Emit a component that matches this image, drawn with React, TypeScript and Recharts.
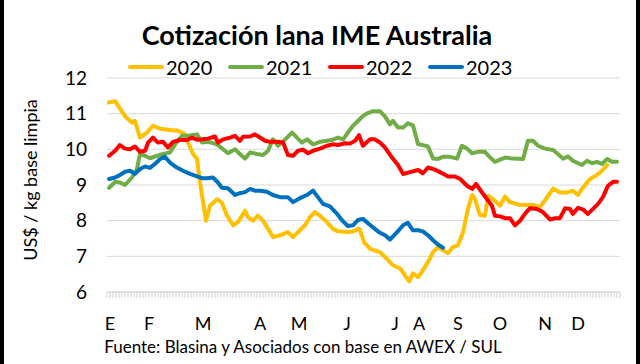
import React from 'react';
import { LineChart, Line, XAxis, YAxis, CartesianGrid } from 'recharts';

const FONT = 'Lato, "Open Sans", sans-serif';

const monthTickPos = [1, 14, 32, 51, 64, 80, 96, 104, 117, 131, 146, 157];
const monthLabels = ['E', 'F', 'M', 'A', 'M', 'J', 'J', 'A', 'S', 'O', 'N', 'D'];
const yTicks = [6, 7, 8, 9, 10, 11, 12];

const x2020 = [0.3, 2.7, 6, 8.3, 9.3, 11, 13.3, 15.3, 17.7, 21, 23.7, 26, 27, 28.7, 30, 31, 33, 34.3, 36.7, 38.3, 40, 42, 43.7, 46, 47, 48.7, 50.3, 52, 53.7, 55.3, 57.7, 60.3, 62, 64.3, 66, 67.7, 69.3, 71, 73.3, 75.3, 77, 80, 82, 83.7, 84.3, 85.7, 87.7, 91, 93.3, 95.3, 97.7, 99.3, 100.7, 102, 103.7, 105.3, 107, 108.7, 110.3, 112, 113.7, 115.3, 117, 118.7, 120.3, 121.7, 122.7, 124.3, 126, 127, 128.7, 131, 132.7, 134.3, 137.7, 142, 144.3, 146.7, 148.7, 151, 153.3, 155.3, 157, 158.7, 161, 163.3, 165, 166.7];
const v2020 = [11.31, 11.35, 10.93, 10.75, 10.8, 10.33, 10.47, 10.66, 10.58, 10.54, 10.52, 10.42, 10.19, 9.87, 9.73, 9.07, 8.0, 8.42, 8.6, 8.5, 8.14, 7.87, 7.96, 8.28, 8.1, 8.0, 8.14, 8.0, 7.77, 7.54, 7.59, 7.68, 7.54, 7.73, 7.87, 8.1, 8.24, 8.14, 7.96, 7.77, 7.7, 7.68, 7.7, 7.77, 7.75, 7.4, 7.21, 7.12, 6.93, 6.75, 6.66, 6.47, 6.3, 6.52, 6.42, 6.61, 6.84, 7.12, 7.26, 7.17, 7.09, 7.26, 7.31, 7.68, 8.33, 8.72, 8.6, 8.16, 8.14, 8.7, 8.6, 8.42, 8.68, 8.52, 8.44, 8.44, 8.38, 8.65, 8.9, 8.79, 8.79, 8.84, 8.72, 8.93, 9.17, 9.28, 9.4, 9.56];

const x2021 = [0.7, 2.7, 4.3, 6, 8.3, 10, 11, 12.7, 14.3, 16.7, 18.7, 21, 22.7, 25, 27, 30, 31.7, 33.7, 36.7, 38.7, 40.3, 42.7, 44.3, 46, 47.7, 50, 52, 53.7, 55.3, 57, 58.3, 60, 61.7, 63.3, 65, 66.7, 68.7, 71, 73.3, 75.3, 77, 78.7, 80.3, 82, 83.7, 85.3, 86.7, 88.7, 91, 92.7, 94.3, 95.3, 97, 98.7, 100.3, 102, 103.7, 105.3, 107, 108.7, 110.3, 112, 114.3, 116.7, 118.3, 120, 121.7, 123.7, 126, 127.7, 129.3, 131, 132.7, 135.3, 138.7, 140.3, 142, 143.7, 146, 148.7, 150.3, 152, 153.7, 155.3, 158.3, 160, 161.7, 163.3, 165, 166.7, 168.3, 170];
const v2021 = [8.92, 9.09, 9.07, 9.0, 9.21, 9.45, 9.87, 9.82, 9.75, 9.82, 9.87, 9.91, 10.14, 10.38, 10.38, 10.42, 10.19, 10.21, 10.14, 10.0, 9.89, 10.0, 9.87, 9.74, 9.91, 9.87, 9.84, 9.96, 10.28, 10.1, 10.19, 10.33, 10.47, 10.33, 10.19, 10.28, 10.14, 10.21, 10.24, 10.27, 10.33, 10.28, 10.47, 10.66, 10.8, 10.93, 11.01, 11.07, 11.07, 10.92, 10.7, 10.8, 10.61, 10.61, 10.73, 10.67, 10.14, 10.12, 10.08, 9.74, 9.73, 9.79, 9.79, 9.74, 10.1, 10.02, 9.89, 9.93, 9.93, 9.77, 9.65, 9.71, 9.77, 9.74, 9.73, 10.24, 10.24, 10.1, 10.02, 9.98, 9.87, 9.74, 9.8, 9.68, 9.56, 9.68, 9.61, 9.65, 9.59, 9.73, 9.65, 9.65];

const x2022 = [0.7, 2.7, 4.3, 6, 7.7, 9.3, 11, 12.7, 13.7, 15.3, 17, 18.7, 20.3, 22, 24.3, 26.7, 28.3, 30, 31.7, 33.7, 36, 37, 38.7, 41, 42.7, 44.3, 45.3, 47.7, 49.3, 51, 52.7, 54.3, 56.7, 58.7, 60.3, 62, 63.7, 65.3, 67, 68.7, 71, 73.3, 75.3, 77, 79.3, 81, 82.7, 84, 85.3, 87.7, 89.3, 91, 92.7, 95, 97, 98.7, 101, 103.7, 105.3, 107, 109.3, 111.7, 113.7, 116, 117.7, 120, 121.7, 123, 125, 126.7, 128.3, 129.3, 131, 132.7, 134.3, 136, 137.7, 139.3, 141, 143.3, 145.3, 147.7, 149.3, 151, 152.7, 154.3, 155.3, 157, 158.7, 160.3, 162, 163.7, 165.3, 167, 168.7, 170];
const v2022 = [9.82, 9.96, 10.12, 10.02, 10.0, 10.08, 9.93, 9.96, 10.19, 10.33, 10.19, 10.21, 10.05, 10.21, 10.26, 10.26, 10.33, 10.27, 10.28, 10.3, 10.36, 10.19, 10.28, 10.33, 10.38, 10.24, 10.35, 10.36, 10.42, 10.33, 10.24, 10.21, 10.21, 10.19, 9.84, 9.82, 9.96, 9.99, 9.89, 9.96, 10.02, 10.1, 10.14, 10.12, 10.17, 10.16, 10.24, 10.4, 10.1, 10.28, 10.28, 10.19, 10.05, 9.77, 9.56, 9.31, 9.36, 9.42, 9.33, 9.49, 9.43, 9.33, 9.24, 9.24, 9.17, 8.98, 8.89, 9.03, 8.79, 8.6, 8.42, 8.14, 8.12, 8.07, 8.07, 7.87, 8.0, 8.19, 8.35, 8.33, 8.24, 8.03, 8.07, 8.07, 8.35, 8.33, 8.19, 8.36, 8.31, 8.19, 8.33, 8.47, 8.66, 8.98, 9.09, 9.09];

const x2023 = [0.7, 2.7, 4.3, 6, 7.7, 9.3, 11, 12.7, 14.3, 16, 17.7, 19.3, 21, 23.3, 25.3, 27.7, 30, 31.7, 33.3, 35.3, 37, 38.3, 40.3, 42.7, 44.3, 46, 47.7, 49.3, 51, 53.3, 55.3, 57.7, 60.3, 62, 64.3, 66.7, 68.7, 70.3, 72, 74.3, 76.7, 78.7, 80.3, 82, 83.7, 85.3, 87.7, 89.3, 91, 92.7, 94.3, 96.7, 98.7, 100.3, 102, 103.7, 105.3, 107, 108.7, 110.3, 112];
const v2023 = [9.17, 9.21, 9.28, 9.37, 9.4, 9.31, 9.45, 9.52, 9.48, 9.59, 9.73, 9.79, 9.63, 9.49, 9.4, 9.31, 9.24, 9.19, 9.19, 9.21, 9.07, 8.92, 8.91, 8.72, 8.77, 8.8, 8.89, 8.84, 8.84, 8.81, 8.72, 8.66, 8.66, 8.52, 8.63, 8.72, 8.84, 8.66, 8.47, 8.4, 8.19, 7.98, 7.85, 7.87, 8.02, 8.05, 7.88, 7.77, 7.66, 7.59, 7.47, 7.68, 7.87, 7.94, 7.73, 7.73, 7.7, 7.59, 7.45, 7.33, 7.24];

const zip = (xs: number[], vs: number[]) => xs.map((x, i) => ({ x, v: vs[i] }));

const series = [
  { name: '2020', color: '#FFC000', data: zip(x2020, v2020) },
  { name: '2021', color: '#70AD47', data: zip(x2021, v2021) },
  { name: '2022', color: '#FF0000', data: zip(x2022, v2022) },
  { name: '2023', color: '#0070C0', data: zip(x2023, v2023) },
];

const allTicks = Array.from({ length: 172 }, (_, i) => i);

const XTick = (props: any) => {
  const { x, y, payload } = props;
  const idx = monthTickPos.indexOf(payload.value);
  return (
    <g>
      <line x1={x} x2={x} y1={y} y2={y + 6} stroke="#d0d0d0" strokeWidth={1} />
      {idx >= 0 && (
        <text x={x} y={y + 31} textAnchor="middle" dominantBaseline="central" fontSize={18} fontFamily={FONT} fill="#000">
          {monthLabels[idx]}
        </text>
      )}
    </g>
  );
};

export default function App() {
  return (
    <div style={{ position: 'absolute', top: 0, left: 0, width: 640, height: 364, background: '#fff', overflow: 'hidden', fontFamily: FONT }}>
      <div style={{ position: 'absolute', left: 0, top: 0, width: 4, height: 364, background: '#000' }} />
      <div style={{ position: 'absolute', left: 636, top: 0, width: 4, height: 364, background: '#000' }} />
      <div style={{ position: 'absolute', left: 0, top: 19, width: 634, textAlign: 'center', fontSize: 27, fontWeight: 700, color: '#000', lineHeight: '32px' }}>
        Cotización lana IME Australia
      </div>
      <div style={{ position: 'absolute', left: 128, top: 55, display: 'flex', alignItems: 'center', height: 24 }}>
        {series.map((s) => (
          <div key={s.name} style={{ display: 'flex', alignItems: 'center', width: 100 }}>
            <div style={{ width: 36, height: 4, background: s.color, borderRadius: 2, marginRight: 2 }} />
            <span style={{ fontSize: 20, color: '#000' }}>{s.name}</span>
          </div>
        ))}
      </div>
      <div style={{ position: 'absolute', left: 30, top: 180, transform: 'translate(-50%, -50%) rotate(-90deg)', whiteSpace: 'nowrap', fontSize: 18, color: '#000' }}>
        US$ / kg base limpia
      </div>
      <div style={{ position: 'absolute', left: 0, top: 336, width: 606, textAlign: 'center', fontSize: 17, color: '#000', lineHeight: '22px' }}>
        Fuente: Blasina y Asociados con base en AWEX / SUL
      </div>
      <div style={{ position: 'absolute', left: 0, top: 0 }}>
        <LineChart width={640} height={364} margin={{ top: 78, right: 20, bottom: 32, left: 47 }}>
          <CartesianGrid horizontal vertical={false} stroke="#d9d9d9" strokeWidth={1} />
          <XAxis
            type="number"
            dataKey="x"
            domain={[0, 171]}
            ticks={allTicks}
            interval={0}
            tickSize={0}
            tickMargin={0}
            tickLine={false}
            axisLine={{ stroke: '#d9d9d9' }}
            tick={<XTick />}
            height={40}
            allowDataOverflow
          />
          <YAxis
            type="number"
            domain={[6, 12]}
            ticks={yTicks}
            interval={0}
            axisLine={false}
            tickLine={false}
            tickSize={6}
            tickMargin={14}
            width={60}
            tick={{ fontSize: 19, fill: '#000', fontFamily: FONT }}
          />
          {series.map((s) => (
            <Line
              key={s.name}
              data={s.data}
              dataKey="v"
              name={s.name}
              type="linear"
              stroke={s.color}
              strokeWidth={4}
              dot={false}
              activeDot={false}
              isAnimationActive={false}
              strokeLinejoin="round"
              strokeLinecap="round"
            />
          ))}
        </LineChart>
      </div>
    </div>
  );
}
